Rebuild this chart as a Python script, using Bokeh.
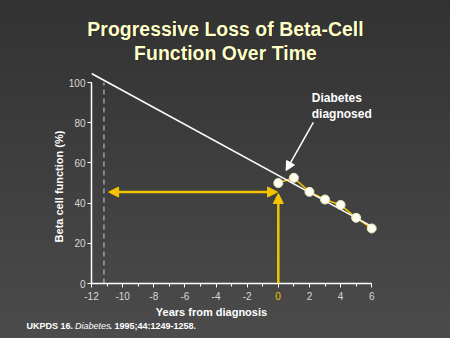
from bokeh.plotting import figure
from bokeh.layouts import column
from bokeh.models import (Range1d, LinearAxis, SingleIntervalTicker, FixedTicker,
                          Label, Arrow, NormalHead)
from bokeh.embed import file_html
from bokeh.resources import INLINE

# ---- data ----
years = [0, 1, 2, 3, 4, 5, 6]
beta = [50.0, 52.6, 45.6, 41.8, 39.1, 32.7, 27.4]
trend_x = [-12, 6]
trend_y = [104.5, 28.4]
onset_year = -11.2
x_ticks = [-12, -10, -8, -6, -4, -2, 0, 2, 4, 6]
y_ticks = [0, 20, 40, 60, 80, 100]
h_arrow = dict(x_start=-0.05, x_end=-10.9, y=45.5)
v_arrow = dict(x=0, y_start=0, y_end=44.8)
note_arrow = dict(x_start=2.25, y_start=80.2, x_end=0.5, y_end=56.2)

FONT = "Liberation Sans"
YEL = "#f5c400"
W, H = 450, 338

p = figure(width=W, height=H, output_backend="svg", toolbar_location=None,
           x_range=Range1d(-12, 6.5), y_range=Range1d(0, 106),
           x_axis_type=None, y_axis_type=None,
           min_border_left=91, min_border_right=71, min_border_top=70, min_border_bottom=55)
p.frame_align = False
p.outline_line_color = None
p.grid.visible = False
p.background_fill_alpha = 0
p.border_fill_alpha = 0
p.styles = {"background-image": "linear-gradient(#323232, #4b4b4b)"}

xa = LinearAxis(ticker=SingleIntervalTicker(interval=2, num_minor_ticks=2), bounds=(-12, 6))
xa.axis_line_color = "white"
xa.axis_line_width = 1.5
xa.major_tick_line_color = "white"
xa.minor_tick_line_color = "white"
xa.major_tick_out = 4
xa.major_tick_in = 0
xa.minor_tick_out = 3
xa.minor_tick_in = 0
xa.major_label_text_color = "#d8d8d8"
xa.major_label_text_font = FONT
xa.major_label_text_font_size = "10px"
xa.major_label_standoff = 3
xa.major_label_overrides = {t: (" " if t == 0 else str(t)) for t in x_ticks}
p.add_layout(xa, "below")

ya = LinearAxis(ticker=FixedTicker(ticks=y_ticks), bounds=(0, 100))
ya.axis_line_color = "white"
ya.axis_line_width = 1.5
ya.major_tick_line_color = "white"
ya.minor_tick_line_color = None
ya.major_tick_out = 4
ya.major_tick_in = 0
ya.major_label_text_color = "#d8d8d8"
ya.major_label_text_font = FONT
ya.major_label_text_font_size = "10px"
ya.major_label_standoff = 2
p.add_layout(ya, "left")

# dashed onset line
p.segment(x0=[onset_year], y0=[0], x1=[onset_year], y1=[100],
          line_color="#b8b8b8", line_width=1.2, line_dash="5 4")

# arrows
p.add_layout(Arrow(x_start=h_arrow["x_start"], y_start=h_arrow["y"],
                   x_end=h_arrow["x_end"], y_end=h_arrow["y"],
                   line_color=YEL, line_width=2.5,
                   start=NormalHead(size=10, fill_color=YEL, line_color=YEL),
                   end=NormalHead(size=10, fill_color=YEL, line_color=YEL)))
p.add_layout(Arrow(x_start=v_arrow["x"], y_start=v_arrow["y_start"],
                   x_end=v_arrow["x"], y_end=v_arrow["y_end"],
                   line_color=YEL, line_width=2.5,
                   end=NormalHead(size=10, fill_color=YEL, line_color=YEL)))

# data
p.line(years, beta, line_color=YEL, line_width=1.5)
p.line(trend_x, trend_y, line_color="white", line_width=1.5)
p.scatter(years, beta, size=9, fill_color="#fffff0", line_color="#e8e8c0", line_width=1)

# annotation
p.add_layout(Arrow(x_start=note_arrow["x_start"], y_start=note_arrow["y_start"],
                   x_end=note_arrow["x_end"], y_end=note_arrow["y_end"],
                   line_color="white", line_width=1.5,
                   end=NormalHead(size=9, fill_color="white", line_color="white")))
p.add_layout(Label(x=2.15, y=96, text="Diabetes\ndiagnosed", text_color="white",
                   text_font=FONT, text_font_style="bold", text_font_size="12px",
                   text_align="left", text_baseline="top"))

# ---- transparent overlay for page-level texts (pixel coordinates, y downwards) ----
q = figure(width=W, height=H, output_backend="svg", toolbar_location=None,
           x_range=Range1d(0, W), y_range=Range1d(H, 0),
           x_axis_type=None, y_axis_type=None,
           min_border_left=0, min_border_right=0, min_border_top=0, min_border_bottom=0)
q.frame_align = False
q.outline_line_color = None
q.grid.visible = False
q.background_fill_alpha = 0
q.border_fill_alpha = 0
q.margin = (-H, 0, 0, 0)

def txt(x, y, text, color="white", size="11px", style="bold", align="center", angle=0):
    q.add_layout(Label(x=x, y=y, text=text, text_color=color, text_font=FONT,
                       text_font_style=style, text_font_size=size, text_align=align,
                       text_baseline="middle", angle=angle))

# title with dark shadow
for line, yy in [("Progressive Loss of Beta-Cell", 28), ("Function Over Time", 52)]:
    txt(225.8, yy + 0.8, line, color="#151515", size="19.5px")
    txt(225, yy, line, color="#ffffc8", size="19.5px")

# axis titles
txt(211, 311, "Years from diagnosis", size="11px")
txt(58, 186, "Beta cell function (%)", size="11px", angle=1.5707963)
# highlighted zero tick label
txt(277.5, 295, "0", color=YEL, size="10px", style="normal")

# footer
txt(26, 325, "UKPDS 16.", size="9px", align="left")
txt(74.5, 325, "Diabetes", size="9px", style="italic", align="left")
txt(109, 325, ". 1995;44:1249-1258.", size="9px", align="left")

layout = column(p, q, spacing=0)
open("out.html", "w").write(file_html(layout, INLINE))
